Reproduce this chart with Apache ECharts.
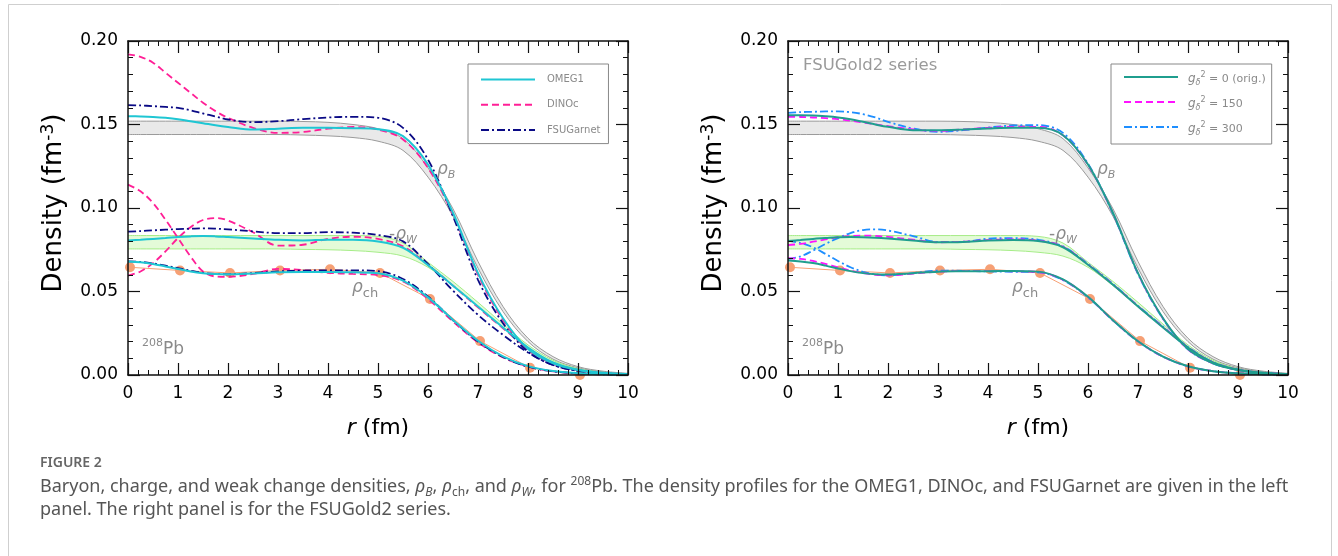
<!DOCTYPE html>
<html>
<head>
<meta charset="utf-8">
<script src="https://cdn.jsdelivr.net/npm/echarts@6/dist/echarts.min.js"></script>
<style>
html,body{margin:0;padding:0;background:#fff;}
#c{width:1338px;height:556px;}
</style>
</head>
<body>
<div id="c"></div>
<script>
// ---------------- data ----------------
const r = [0,0.25,0.5,0.75,1,1.25,1.5,1.75,2,2.5,3,3.5,4,4.5,5,5.5,6,6.5,7,7.5,8,8.5,9,9.5,10];
const xTicks = [0,1,2,3,4,5,6,7,8,9,10];
const yTicks = [0.00,0.05,0.10,0.15,0.20];

// experimental bands
const bandB_hi = [0.152,0.152,0.152,0.152,0.152,0.152,0.152,0.152,0.152,0.152,0.152,0.1518,0.1513,0.150,0.1475,0.1415,0.124,0.0995,0.068,0.041,0.022,0.011,0.005,0.0023,0.001];
const bandB_lo = [0.144,0.144,0.144,0.144,0.144,0.144,0.144,0.144,0.144,0.144,0.144,0.1437,0.1432,0.1422,0.140,0.1345,0.1185,0.095,0.064,0.038,0.020,0.0095,0.0043,0.0019,0.0008];
const bandW_hi = [0.0835,0.0835,0.0835,0.0835,0.0835,0.0835,0.0835,0.0835,0.0835,0.0835,0.0835,0.0835,0.0835,0.0835,0.083,0.079,0.0675,0.056,0.0435,0.0305,0.018,0.0088,0.0038,0.0016,0.0007];
const bandW_lo = [0.0755,0.0755,0.0755,0.0755,0.0755,0.0755,0.0755,0.0755,0.0755,0.0755,0.0755,0.0752,0.075,0.0745,0.0735,0.0712,0.0645,0.0535,0.041,0.0285,0.0165,0.0078,0.0034,0.0014,0.0006];

// experimental charge density points
const rExp  = [0.04,1.04,2.04,3.04,4.04,5.04,6.04,7.04,8.04,9.04];
const chExp = [0.0645,0.0626,0.0611,0.0626,0.0633,0.0611,0.0455,0.0203,0.0043,0.0];

// left panel models
const omeg1_B  = [0.155,0.1548,0.1545,0.154,0.1532,0.152,0.1508,0.1495,0.1485,0.147,0.1475,0.148,0.148,0.1478,0.1472,0.143,0.126,0.097,0.061,0.034,0.0155,0.007,0.003,0.0012,0.0005];
const omeg1_W  = [0.0806,0.081,0.0815,0.082,0.0826,0.083,0.0832,0.083,0.0826,0.0818,0.081,0.0806,0.081,0.081,0.080,0.0762,0.0658,0.0535,0.041,0.0285,0.0165,0.0075,0.0032,0.0013,0.0005];
const omeg1_ch = [0.068,0.0675,0.0665,0.065,0.0635,0.062,0.061,0.0605,0.0603,0.0608,0.0615,0.0617,0.0617,0.0615,0.061,0.0565,0.0465,0.033,0.0205,0.0112,0.0053,0.0024,0.0011,0.0005,0.0002];

const dinoc_B  = [0.192,0.1905,0.187,0.181,0.175,0.169,0.163,0.158,0.154,0.148,0.145,0.1455,0.1475,0.1485,0.147,0.141,0.124,0.096,0.060,0.033,0.015,0.0068,0.0029,0.0012,0.0005];
const dinoc_W  = [0.0595,0.062,0.067,0.074,0.082,0.0885,0.0928,0.094,0.0925,0.0855,0.0775,0.078,0.0815,0.0828,0.0815,0.077,0.066,0.0535,0.0405,0.028,0.016,0.0072,0.003,0.0012,0.0005];
const dinoc_ch = [0.114,0.110,0.103,0.093,0.082,0.071,0.062,0.059,0.0588,0.0605,0.0635,0.0628,0.0612,0.0605,0.0598,0.056,0.0455,0.032,0.0195,0.0105,0.005,0.0022,0.0009,0.0004,0.0002];

const garnet_B  = [0.1616,0.1614,0.161,0.1605,0.160,0.1585,0.1566,0.1548,0.153,0.1514,0.152,0.1532,0.1542,0.1546,0.154,0.148,0.129,0.095,0.057,0.031,0.014,0.006,0.0025,0.001,0.0004];
const garnet_W  = [0.0858,0.0862,0.0866,0.087,0.0874,0.0876,0.0878,0.0876,0.0872,0.086,0.085,0.085,0.0855,0.0852,0.0838,0.080,0.0665,0.0505,0.036,0.024,0.0135,0.006,0.0025,0.001,0.0004];
const garnet_ch = [0.068,0.0677,0.0668,0.0655,0.064,0.0625,0.0612,0.0605,0.0603,0.061,0.062,0.0625,0.0627,0.0627,0.0622,0.0575,0.047,0.0328,0.020,0.0108,0.005,0.0022,0.001,0.0004,0.0002];

// right panel models (FSUGold2 series)
const g0_B    = [0.1556,0.1556,0.1554,0.1549,0.1542,0.1531,0.1516,0.15,0.1486,0.1466,0.1466,0.147,0.1476,0.148,0.148,0.1436,0.126,0.097,0.061,0.034,0.0155,0.007,0.003,0.0012,0.0005];
const g150_B  = [0.1546,0.1545,0.1542,0.1538,0.1532,0.1523,0.1512,0.1501,0.149,0.147,0.1462,0.147,0.148,0.1486,0.1486,0.1435,0.1258,0.0968,0.0608,0.0338,0.0154,0.007,0.003,0.0012,0.0005];
const g300_B  = [0.157,0.1574,0.1576,0.1578,0.1578,0.1574,0.1562,0.1542,0.1516,0.1476,0.1456,0.1466,0.1482,0.1494,0.1496,0.145,0.1265,0.0965,0.0605,0.0336,0.0153,0.007,0.003,0.0012,0.0005];
const g0_W    = [0.0802,0.0808,0.0815,0.082,0.0825,0.0826,0.0825,0.0822,0.0817,0.0805,0.0795,0.0797,0.0805,0.0808,0.0802,0.0765,0.066,0.054,0.041,0.0285,0.0165,0.0075,0.0032,0.0013,0.0005];
const g150_W  = [0.0778,0.0785,0.0798,0.0812,0.0825,0.0832,0.0835,0.0833,0.0827,0.081,0.0795,0.0798,0.0808,0.0812,0.0805,0.0768,0.0662,0.0542,0.0412,0.0287,0.0166,0.0076,0.0032,0.0013,0.0005];
const g300_W  = [0.0695,0.071,0.0745,0.0785,0.082,0.085,0.0868,0.0872,0.0865,0.0832,0.0797,0.0798,0.0816,0.082,0.081,0.077,0.0665,0.0545,0.0414,0.029,0.0168,0.0077,0.0033,0.0013,0.0005];
const g0_ch   = [0.0685,0.068,0.067,0.0655,0.0638,0.0622,0.061,0.0603,0.0602,0.061,0.0619,0.0621,0.0622,0.0623,0.0619,0.0572,0.0468,0.0328,0.0202,0.011,0.0052,0.0023,0.001,0.0004,0.0002];
const g150_ch = [0.07,0.0695,0.0683,0.0665,0.0645,0.0625,0.061,0.06,0.0597,0.0607,0.0619,0.0622,0.0622,0.0621,0.0617,0.057,0.0467,0.0327,0.0202,0.011,0.0052,0.0023,0.001,0.0004,0.0002];
const g300_ch = [0.0805,0.079,0.0765,0.0725,0.0683,0.0645,0.0618,0.0602,0.0597,0.061,0.0625,0.0624,0.062,0.0618,0.0615,0.0568,0.0465,0.0326,0.0201,0.011,0.0052,0.0023,0.001,0.0004,0.0002];

const leftNames  = ['OMEG1','DINOc','FSUGarnet'];
const rightNames = ['g0','g150','g300'];
const rightLabels = {g0:'0 (orig.)', g150:'150', g300:'300'};

// ---------------- chart ----------------
const chart = echarts.init(document.getElementById('c'), null, {renderer:'canvas'});
const pairs = (xs, ys) => xs.map((x,i)=>[x, ys[i]]);
const SM = 0.35;
const AX_FONT = 'DejaVu Sans';

function xAx(gi, pos){
  const bottom = pos === 'bottom';
  return {
    type:'value', gridIndex:gi, position:pos, min:0, max:10, interval:1, z:10,
    axisLine:{show:true, onZero:false, lineStyle:{color:'#111', width:1.5}},
    axisTick:{show:true, inside:true, length:12, lineStyle:{color:'#111', width:1.2}},
    minorTick:{show:true, splitNumber:5, length:5, lineStyle:{color:'#111', width:1}},
    splitLine:{show:false},
    axisLabel:{show:bottom, color:'#000', fontSize:17, fontFamily:AX_FONT, margin:10},
    name: bottom ? '{i|r} (fm)' : '',
    nameLocation:'middle', nameGap:42,
    nameTextStyle:{color:'#000', fontSize:22, fontFamily:AX_FONT,
      rich:{i:{fontStyle:'italic', fontSize:22, fontFamily:AX_FONT, color:'#000'}}}
  };
}
function yAx(gi, pos){
  const left = pos === 'left';
  return {
    type:'value', gridIndex:gi, position:pos, min:0, max:0.2, interval:0.05, z:10,
    axisLine:{show:true, onZero:false, lineStyle:{color:'#111', width:1.5}},
    axisTick:{show:true, inside:true, length:12, lineStyle:{color:'#111', width:1.2}},
    minorTick:{show:true, splitNumber:5, length:5, lineStyle:{color:'#111', width:1}},
    splitLine:{show:false},
    axisLabel:{show:left, color:'#000', fontSize:17, fontFamily:AX_FONT, margin:10,
      formatter:v=>v.toFixed(2)},
    name: left ? 'Density (fm{sup|-3})' : '',
    nameLocation:'middle', nameGap:60, nameRotate:90,
    nameTextStyle:{color:'#000', fontSize:26, fontFamily:AX_FONT, padding:[0,0,0,10],
      rich:{sup:{fontSize:17, fontFamily:AX_FONT, color:'#000', verticalAlign:'top', padding:[0,0,11,0]}}}
  };
}

// band: upper edge filled down to 0, lower edge filled white on top of it
function bandSeries(gi, lo, hi, stroke, fill){
  return [
    {type:'line', name:'band', xAxisIndex:gi*2, yAxisIndex:gi*2, data:pairs(r, hi),
     symbol:'none', smooth:SM, silent:true, z:1, lineStyle:{color:stroke, width:1},
     areaStyle:{color:fill, opacity:1}},
    {type:'line', name:'band', xAxisIndex:gi*2, yAxisIndex:gi*2, data:pairs(r, lo),
     symbol:'none', smooth:SM, silent:true, z:1, lineStyle:{color:stroke, width:1},
     areaStyle:{color:'#ffffff', opacity:1}}
  ];
}
function expSeries(gi){
  return {type:'line', name:'exp', xAxisIndex:gi*2, yAxisIndex:gi*2, data:pairs(rExp, chExp),
    symbol:'circle', symbolSize:10, z:2, silent:true,
    itemStyle:{color:'#f6a075'}, lineStyle:{color:'#f6a075', width:1}};
}
function model(gi, name, ys, color, type, width, z){
  return {type:'line', name:name, xAxisIndex:gi*2, yAxisIndex:gi*2, data:pairs(r, ys),
    symbol:'none', smooth:SM, z:z, silent:true,
    itemStyle:{color:color},
    lineStyle:{color:color, width:width, type:type}};
}

const C_OMEG = '#1fc6d3', C_DINO = '#ff1f96', C_GAR = '#0a0a85';
const C_G0 = '#1f9e8e', C_G150 = '#ff12ff', C_G300 = '#1e8eff';
const DASH = [7,4], DASHDOT = [8,3,2,3];

const series = [].concat(
  bandSeries(0, bandB_lo, bandB_hi, '#9a9a9a', '#e9e9e9'),
  bandSeries(0, bandW_lo, bandW_hi, '#a6ec88', '#e4fbd8'),
  [expSeries(0)],
  [model(0,'DINOc',dinoc_B,C_DINO,DASH,1.8,3), model(0,'DINOc',dinoc_W,C_DINO,DASH,1.8,3), model(0,'DINOc',dinoc_ch,C_DINO,DASH,1.8,3)],
  [model(0,'FSUGarnet',garnet_B,C_GAR,DASHDOT,1.8,4), model(0,'FSUGarnet',garnet_W,C_GAR,DASHDOT,1.8,4), model(0,'FSUGarnet',garnet_ch,C_GAR,DASHDOT,1.8,4)],
  [model(0,'OMEG1',omeg1_B,C_OMEG,'solid',2,5), model(0,'OMEG1',omeg1_W,C_OMEG,'solid',2,5), model(0,'OMEG1',omeg1_ch,C_OMEG,'solid',2,5)],
  bandSeries(1, bandB_lo, bandB_hi, '#9a9a9a', '#e9e9e9'),
  bandSeries(1, bandW_lo, bandW_hi, '#a6ec88', '#e4fbd8'),
  [expSeries(1)],
  [model(1,'g300',g300_B,C_G300,DASHDOT,1.8,3), model(1,'g300',g300_W,C_G300,DASHDOT,1.8,3), model(1,'g300',g300_ch,C_G300,DASHDOT,1.8,3)],
  [model(1,'g150',g150_B,C_G150,DASH,1.8,4), model(1,'g150',g150_W,C_G150,DASH,1.8,4), model(1,'g150',g150_ch,C_G150,DASH,1.8,4)],
  [model(1,'g0',g0_B,C_G0,'solid',2,5), model(1,'g0',g0_W,C_G0,'solid',2,5), model(1,'g0',g0_ch,C_G0,'solid',2,5)]
);

const GRAY = '#8a8a8a';
const labRich = {
  r:{fontSize:17, fontFamily:AX_FONT, fontStyle:'italic', fill:GRAY, lineHeight:18},
  m:{fontSize:17, fontFamily:AX_FONT, fill:GRAY, lineHeight:18},
  si:{fontSize:11, fontFamily:AX_FONT, fontStyle:'italic', fill:GRAY, lineHeight:11, padding:[12,0,0,0]},
  s:{fontSize:13, fontFamily:AX_FONT, fill:GRAY, lineHeight:13, padding:[12,0,0,0]},
  sup:{fontSize:11, fontFamily:AX_FONT, fill:GRAY, lineHeight:11, padding:[0,0,12,0]}
};
function panelTexts(dx){
  return [
    {type:'text', z:100, left:437+dx, top:158, style:{text:'{r|ρ}{si|B}', rich:labRich, fill:GRAY}},
    {type:'text', z:100, left:389+dx, top:223, style:{text:'{m|-}{r|ρ}{si|W}', rich:labRich, fill:GRAY}},
    {type:'text', z:100, left:352+dx, top:275, style:{text:'{r|ρ}{s|ch}', rich:labRich, fill:GRAY}},
    {type:'text', z:100, left:142+dx, top:338, style:{text:'{sup|208}{m|Pb}', rich:labRich, fill:GRAY}}
  ];
}
const CAPF = 'Noto Sans';
const CAPC = '#555555';
const capRich = {
  t:{fontSize:18, fontFamily:CAPF, fill:CAPC, lineHeight:22},
  gi:{fontSize:18, fontFamily:CAPF, fontStyle:'italic', fill:CAPC, lineHeight:22},
  sb:{fontSize:12, fontFamily:CAPF, fontStyle:'italic', fill:CAPC, lineHeight:12, padding:[12,0,0,0]},
  sbu:{fontSize:12, fontFamily:CAPF, fill:CAPC, lineHeight:12, padding:[12,0,0,0]},
  sp:{fontSize:12, fontFamily:CAPF, fill:CAPC, lineHeight:12, padding:[0,0,11,0]}
};

const graphic = [].concat(
  [{type:'rect', z:100, left:6, top:2, shape:{width:1323, height:560}, style:{fill:'none', stroke:'#cfcfcf', lineWidth:1}, silent:true}],
  panelTexts(0), panelTexts(660),
  [{type:'text', z:100, left:803, top:57, style:{text:'FSUGold2 series', fontSize:16.5, fontFamily:AX_FONT, fill:'#9a9a9a'}}],
  [{type:'text', z:100, left:40, top:456, style:{text:'FIGURE 2', fontSize:14, fontFamily:CAPF, fontWeight:600, fill:'#666'}}],
  [{type:'text', z:100, left:40, top:475, style:{rich:capRich, fill:CAPC,
    text:'{t|Baryon, charge, and weak change densities, }{gi|ρ}{sb|B}{t|, }{gi|ρ}{sbu|ch}{t|, and }{gi|ρ}{sb|W}{t|, for }{sp|208}{t|Pb. The density profiles for the OMEG1, DINOc, and FSUGarnet are given in the left}'}}],
  [{type:'text', z:100, left:40, top:501, style:{text:'panel. The right panel is for the FSUGold2 series.', fontSize:18, fontFamily:CAPF, fill:CAPC}}]
);

const legendCommon = {
  orient:'vertical', itemWidth:54, itemHeight:14,
  borderColor:'#888', borderWidth:1, borderRadius:0, backgroundColor:'#fff',
  selectedMode:false, z:20,
  itemStyle:{opacity:0}
};

chart.setOption({
  animation:false,
  backgroundColor:'#fff',
  grid:[
    {left:128, top:41, width:500, height:334},
    {left:788, top:41, width:500, height:334}
  ],
  xAxis:[xAx(0,'bottom'), xAx(0,'top'), xAx(1,'bottom'), xAx(1,'top')],
  yAxis:[yAx(0,'left'), yAx(0,'right'), yAx(1,'left'), yAx(1,'right')],
  legend:[
    Object.assign({}, legendCommon, {left:468, top:64, data:leftNames, itemGap:14, padding:[10,8,8,12],
      textStyle:{color:'#8a8a8a', fontSize:10, fontFamily:AX_FONT, padding:[4,0,0,7]}}),
    Object.assign({}, legendCommon, {left:1111, top:64, data:rightNames, itemGap:9, padding:[7,6,7,12],
      formatter:n=>'{g|g}{d|δ}{p|2}{t| = '+rightLabels[n]+'}',
      textStyle:{color:'#8a8a8a', fontSize:11, fontFamily:AX_FONT, padding:[4,0,0,5],
        rich:{
          g:{fontStyle:'italic', fontSize:12, color:'#8a8a8a', fontFamily:AX_FONT, lineHeight:14},
          d:{fontStyle:'italic', fontSize:8, color:'#8a8a8a', fontFamily:AX_FONT, lineHeight:8, padding:[8,0,0,0]},
          p:{fontSize:8, color:'#8a8a8a', fontFamily:AX_FONT, lineHeight:8, padding:[0,0,8,0]},
          t:{fontSize:11, color:'#8a8a8a', fontFamily:AX_FONT, lineHeight:14}
        }}})
  ],
  graphic: graphic,
  series: series
});
</script>
</body>
</html>
